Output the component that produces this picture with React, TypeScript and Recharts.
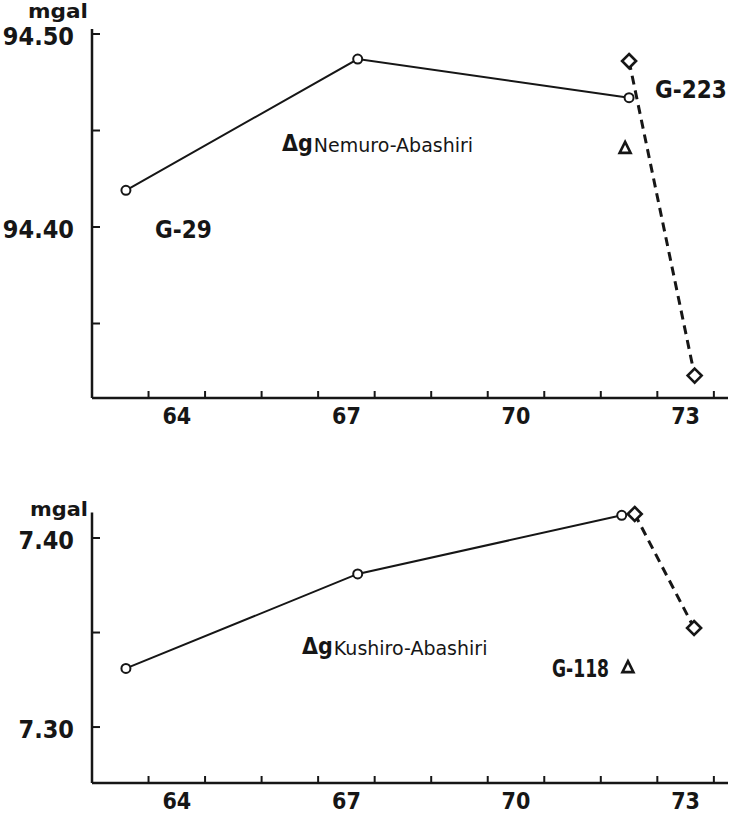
import React from 'react';
import { ComposedChart, Line, Scatter, XAxis, YAxis } from 'recharts';

// year axis: tick marks at year boundaries, labels centred on the year
const yearTicks = [64, 65, 66, 67, 68, 69, 70, 71, 72, 73, 74];
const yearLabels = [64, 67, 70, 73];

// Nemuro - Abashiri (upper panel)
const nemuroYears = [63.6, 67.7, 72.5];
const nemuroValues = [94.419, 94.487, 94.467];
const g223Years = [72.5, 73.66];
const g223Values = [94.486, 94.323];
const nemuroAbsYears = [72.43];
const nemuroAbsValues = [94.441];
const nemuroTicks = [94.35, 94.4, 94.45, 94.5];
const nemuroTickLabels = [94.4, 94.5];

// Kushiro - Abashiri (lower panel)
const kushiroYears = [63.6, 67.7, 72.37];
const kushiroValues = [7.331, 7.381, 7.412];
const g118Years = [72.6, 73.65];
const g118Values = [7.4127, 7.3524];
const kushiroAbsYears = [72.48];
const kushiroAbsValues = [7.3317];
const kushiroTicks = [7.3, 7.35, 7.4];
const kushiroTickLabels = [7.3, 7.4];

const INK = '#161616';
const FONT = "'DejaVu Sans Condensed', 'DejaVu Sans', sans-serif";

const toRows = (xs: number[], ys: number[]) => xs.map((x, i) => ({ year: x, v: ys[i] }));

const Ring = (p: any) => {
  if (p.cx == null) return <g key={`r-${p.index}`} />;
  return <circle key={`r-${p.index}`} cx={p.cx} cy={p.cy} r={4.5} fill="#fff" stroke={INK} strokeWidth={2} />;
};

const Diamond = (p: any) => {
  if (p.cx == null) return <g key={`d-${p.index}`} />;
  const s = 7;
  return (
    <path
      key={`d-${p.index}`}
      d={`M${p.cx},${p.cy - s} L${p.cx + s},${p.cy} L${p.cx},${p.cy + s} L${p.cx - s},${p.cy} Z`}
      fill="#fff"
      stroke={INK}
      strokeWidth={2.6}
    />
  );
};

const Triangle = (p: any) => {
  const { cx, cy } = p;
  return (
    <path
      d={`M${cx},${cy - 6} L${cx + 5.5},${cy + 5} L${cx - 5.5},${cy + 5} Z`}
      fill="none"
      stroke={INK}
      strokeWidth={2.6}
    />
  );
};

const YearTick = (p: any) => {
  const { x, y, payload } = p;
  const v = payload.value;
  if (Number.isInteger(v)) {
    return <line x1={x} x2={x} y1={y} y2={y - 7} stroke={INK} strokeWidth={2} />;
  }
  return (
    <text x={x} y={y + 26} textAnchor="middle" fontFamily={FONT} fontWeight="bold" fontSize={23} fill={INK}>
      {Math.floor(v)}
    </text>
  );
};

const makeValueTick = (labelled: number[]) => (p: any) => {
  const { x, y, payload } = p;
  const v = payload.value;
  const show = labelled.some((l) => Math.abs(l - v) < 1e-6);
  return (
    <g>
      <line x1={x} x2={x + 8} y1={y} y2={y} stroke={INK} strokeWidth={2} />
      {show && (
        <text x={x - 18} y={y + 11} textAnchor="end" fontFamily={FONT} fontWeight="bold" fontSize={25} fill={INK}>
          {v.toFixed(2)}
        </text>
      )}
    </g>
  );
};

const xTicks = [...yearTicks, ...yearLabels.map((y) => y + 0.5)];

interface PanelProps {
  height: number;
  top: number;
  marginTop: number;
  xHeight: number;
  domain: [number, number];
  ticks: number[];
  labelled: number[];
  solid: { year: number; v: number }[];
  dashed: { year: number; v: number }[];
  abs: { year: number; v: number }[];
}

const Panel = ({ height, top, marginTop, xHeight, domain, ticks, labelled, solid, dashed, abs }: PanelProps) => (
  <div style={{ position: 'absolute', left: 0, top }}>
    <ComposedChart width={740} height={height} margin={{ top: marginTop, right: 12, bottom: 0, left: 12 }}>
      <XAxis
        dataKey="year"
        type="number"
        domain={[63, 74.25]}
        ticks={xTicks}
        interval={0}
        tick={<YearTick />}
        tickLine={false}
        tickSize={0}
        tickMargin={0}
        height={xHeight}
        axisLine={{ stroke: INK, strokeWidth: 2.5 }}
      />
      <YAxis
        type="number"
        domain={domain}
        ticks={ticks}
        interval={0}
        width={80}
        tick={makeValueTick(labelled)}
        tickLine={false}
        tickSize={0}
        tickMargin={0}
        axisLine={{ stroke: INK, strokeWidth: 2.5 }}
      />
      <Line
        data={dashed}
        dataKey="v"
        stroke={INK}
        strokeWidth={3}
        strokeDasharray="9 6"
        dot={Diamond}
        activeDot={false}
        isAnimationActive={false}
      />
      <Line
        data={solid}
        dataKey="v"
        stroke={INK}
        strokeWidth={2}
        dot={Ring}
        activeDot={false}
        isAnimationActive={false}
      />
      <Scatter data={abs} dataKey="v" shape={Triangle} isAnimationActive={false} />
    </ComposedChart>
  </div>
);

export default function App() {
  return (
    <div style={{ position: 'absolute', left: 0, top: 0, width: 740, height: 817, background: '#fff', overflow: 'hidden' }}>
      <Panel
        height={450}
        top={0}
        marginTop={29}
        xHeight={52}
        domain={[94.3114, 94.5026]}
        ticks={nemuroTicks}
        labelled={nemuroTickLabels}
        solid={toRows(nemuroYears, nemuroValues)}
        dashed={toRows(g223Years, g223Values)}
        abs={toRows(nemuroAbsYears, nemuroAbsValues)}
      />
      <Panel
        height={327}
        top={490}
        marginTop={22.5}
        xHeight={34}
        domain={[7.2704, 7.4135]}
        ticks={kushiroTicks}
        labelled={kushiroTickLabels}
        solid={toRows(kushiroYears, kushiroValues)}
        dashed={toRows(g118Years, g118Values)}
        abs={toRows(kushiroAbsYears, kushiroAbsValues)}
      />
      <svg width={740} height={817} style={{ position: 'absolute', left: 0, top: 0, pointerEvents: 'none' }}>
        <g fontFamily={FONT} fill={INK}>
          <text x={28} y={18} fontSize={19} fontWeight="bold" textLength={60} lengthAdjust="spacingAndGlyphs">mgal</text>
          <text x={30} y={516} fontSize={19} fontWeight="bold" textLength={58} lengthAdjust="spacingAndGlyphs">mgal</text>
          <text x={155} y={238} fontSize={24} fontWeight="bold">G-29</text>
          <text x={655} y={98} fontSize={24} fontWeight="bold">G-223</text>
          <text x={552} y={677} fontSize={24} fontWeight="bold" textLength={57} lengthAdjust="spacingAndGlyphs">
            G-118
          </text>
          <text x={282} y={151}>
            <tspan fontSize={23} fontWeight="bold">Δg</tspan>
            <tspan fontSize={19} dx={1} dy={1} fontFamily="'DejaVu Sans', sans-serif">Nemuro-Abashiri</tspan>
          </text>
          <text x={302} y={654}>
            <tspan fontSize={23} fontWeight="bold">Δg</tspan>
            <tspan fontSize={19} dx={1} dy={1} fontFamily="'DejaVu Sans', sans-serif">Kushiro-Abashiri</tspan>
          </text>
        </g>
      </svg>
    </div>
  );
}
